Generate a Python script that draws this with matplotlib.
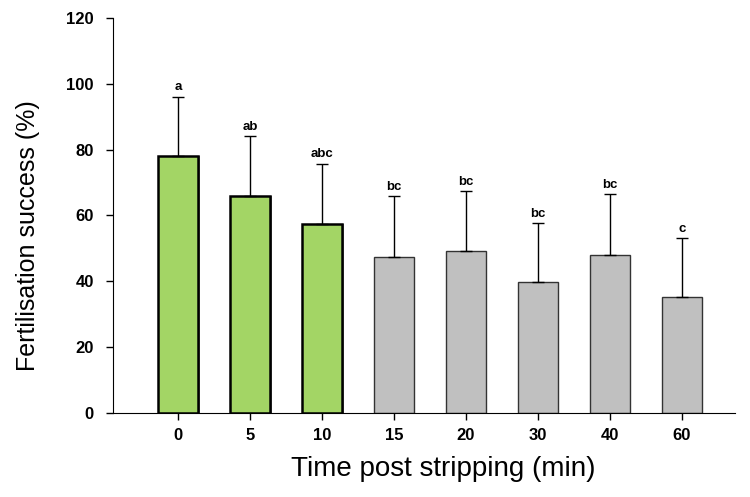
import matplotlib.pyplot as plt
import numpy as np

plt.rcParams.update({'font.family': ['Liberation Sans', 'DejaVu Sans']})

times = ['0', '5', '10', '15', '20', '30', '40', '60']
success = [78.2, 66.0, 57.5, 47.5, 49.2, 39.8, 48.0, 35.1]
upper = [96.1, 84.1, 75.7, 65.8, 67.4, 57.7, 66.5, 53.2]
letters = ['a', 'ab', 'abc', 'bc', 'bc', 'bc', 'bc', 'c']
green = [True, True, True, False, False, False, False, False]

fig = plt.figure(figsize=(7.5, 4.97), dpi=100)
ax = fig.add_axes([0.151, 0.169, 0.829, 0.795])

x = np.arange(len(times))
err = np.array(upper) - np.array(success)
for i in x:
    if green[i]:
        # shadow on the right side of the green bars
        ax.bar(i + 0.03, success[i], width=0.56, color='#777777', zorder=1)
        ax.bar(i, success[i], width=0.56, color='#a3d565', edgecolor='black',
               linewidth=1.8, zorder=2)
    else:
        ax.bar(i, success[i], width=0.56, color='#c0c0c0', edgecolor='#333333',
               linewidth=1.0, zorder=2)

ax.errorbar(x, success, yerr=[np.zeros(len(x)), err], fmt='none', ecolor='black',
            elinewidth=1.0, capsize=4.5, capthick=1.0, zorder=3)
for i in x:
    ax.text(i, upper[i] + 1.0, letters[i], ha='center', va='bottom',
            fontsize=9.5, fontweight='bold')

ax.set_xlim(-0.9, 7.74)
ax.set_ylim(0, 120)
ax.set_xticks(x)
ax.set_xticklabels(times)
ax.set_yticks(range(0, 121, 20))
for lab in ax.get_xticklabels() + ax.get_yticklabels():
    lab.set_fontweight('bold')
    lab.set_fontsize(12)
ax.tick_params(direction='out', length=5, width=1)
ax.tick_params(axis='y', pad=9)
ax.tick_params(axis='x', pad=6)
ax.spines['top'].set_visible(False)
ax.spines['right'].set_visible(False)
ax.set_xlabel('Time post stripping (min)', fontsize=20)
ax.set_ylabel('Fertilisation success (%)', fontsize=18)
ax.xaxis.set_label_coords(0.53, -0.11)
ax.yaxis.set_label_coords(-0.118, 0.45)

fig.savefig('out.png', dpi=100)
